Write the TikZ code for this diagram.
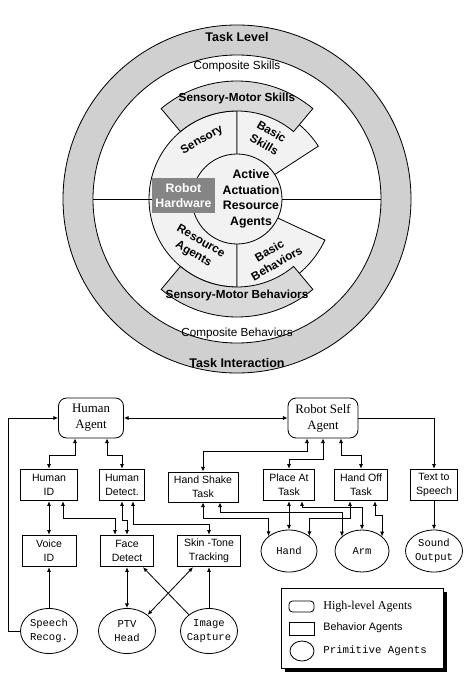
\documentclass[tikz,border=0pt]{standalone}
\usepackage{fontspec}
\setmainfont{Liberation Serif}
\setsansfont{Liberation Sans}
\setmonofont{Liberation Mono}
\usetikzlibrary{arrows.meta,calc,shapes.geometric,shadows}

\tikzset{agent/.style = {shape=rectangle, draw, rounded corners=7pt, align=center, minimum height=1.2cm, font=\fontsize{11}{13.5}\selectfont}}
\tikzset{behav/.style = {shape=rectangle, draw, align=center, inner sep=1pt, minimum height=0.95cm, font=\sffamily\fontsize{9}{12}\selectfont}}
\tikzset{prim/.style = {ellipse, draw, align=center, inner xsep=-2pt, inner ysep=0pt, minimum width=1.71cm, minimum height=1.35cm, font=\ttfamily\fontsize{9}{12}\selectfont}}
\tikzset{ringtext/.style = {font=\sffamily\bfseries\fontsize{10.7}{12}\selectfont}}
\tikzset{comptext/.style = {font=\sffamily\fontsize{10}{12}\selectfont}}
\tikzset{skilltext/.style = {align=center, inner sep=1pt, font=\sffamily\bfseries\fontsize{10}{12.5}\selectfont}}
\tikzset{hwbox/.style = {shape=rectangle, fill=black!48, text=white, align=center, minimum width=1.89cm, minimum height=1.05cm, inner sep=1pt, font=\sffamily\bfseries\fontsize{10.5}{13}\selectfont}}
\tikzset{legendbox/.style = {shape=rectangle, draw, fill=white, minimum width=4.86cm, minimum height=2.4cm, drop shadow={shadow xshift=0.12cm, shadow yshift=-0.12cm, fill=black, opacity=1}}}

\begin{document}
\begin{tikzpicture}[x=0.03cm, y=0.03cm, line width=0.7pt,
			>={Latex[length=4pt,width=3.5pt]}
		]
		\useasboundingbox (0,0) rectangle (474,-683);
		% Rings
		\coordinate (c) at (237,-199);
		\draw[fill=gray!37] (c) circle[radius=174];
		\draw[fill=white] (c) circle[radius=144];
		% Wedges
		\draw[fill=gray!10] (c) -- ($(c)+(90:88)$) arc[start angle=90, end angle=270, radius=88] -- cycle;
		\draw[fill=gray!10] (c) -- ($(c)+(33:97)$) arc[start angle=33, end angle=90, radius=97] -- cycle;
		\draw[fill=gray!10] (c) -- ($(c)+(-90:97)$) arc[start angle=-90, end angle=-25, radius=97] -- cycle;
		\foreach \a/\b in {50/130, -50/-130}
			\draw[fill=gray!30] ($(c)+(\a:88)$) -- ($(c)+(\a:118)$) arc[start angle=\a, end angle=\b, radius=118]
				-- ($(c)+(\b:88)$) arc[start angle=\b, end angle=\a, radius=88] -- cycle;
		\draw[fill=gray!10] (c) circle[radius=45];
		% Core nodes
		\node[hwbox]     (hw) at (183.5,-195.5) {Robot\\Hardware};
		\node[skilltext, font=\sffamily\bfseries\fontsize{10.5}{13.2}\selectfont] (core) at (251,-199) {Active\\Actuation\\Resource\\Agents};
		\draw ($(c)+(-144,0)$) -- (hw.west |- c);
		\draw ($(c)+(45,0)$) -- ($(c)+(144,0)$);
		% Labels
		\node[skilltext, rotate=30]  (sens) at (202,-140) {Sensory};
		\node[skilltext, rotate=-30] (bskill) at (268,-138) {Basic\\Skills};
		\node[skilltext, rotate=-30] (resag) at (197,-248) {Resource\\Agents};
		\node[skilltext, rotate=30]  (bbeh) at (273,-257) {Basic\\Behaviors};
		\node[skilltext] (smskill) at (237,-98) {Sensory-Motor Skills};
		\node[skilltext] (smbeh) at (237,-295) {Sensory-Motor Behaviors};
		\node[ringtext]  (tlevel) at (237,-37) {Task Level};
		\node[comptext]  (cskill) at (237,-66) {Composite Skills};
		\node[comptext]  (cbeh) at (237,-333) {Composite Behaviors};
		\node[ringtext]  (tinter) at (237,-363) {Task Interaction};
		% Nodes
		\node[agent, minimum width=1.95cm] (hagent) at ( 91,-418) {Human\\Agent};
		\node[agent, minimum width=2.1cm]  (ragent) at (323,-418) {Robot Self\\Agent};
		\node[behav, minimum width=1.71cm] (hid)    at ( 49,-485) {Human\\ID};
		\node[behav, minimum width=1.35cm] (hdet)   at (122,-485) {Human\\Detect.};
		\node[behav, minimum width=2.1cm, minimum height=0.9cm] (hshake) at (203,-487) {Hand Shake\\Task};
		\node[behav, minimum width=1.53cm] (place)  at (289,-485) {Place At\\Task};
		\node[behav, minimum width=1.59cm] (hoff)   at (361,-485) {Hand Off\\Task};
		\node[behav, minimum width=1.41cm] (tts)    at (434,-485) {Text to\\Speech};
		\node[behav, minimum width=1.62cm] (vid)    at ( 49,-551) {Voice\\ID};
		\node[behav, minimum width=1.59cm] (face)   at (127,-551) {Face\\Detect};
		\node[behav, minimum width=1.89cm] (skin)   at (209,-551) {Skin -Tone\\Tracking};
		\node[prim]  (speech) at ( 49,-631) {Speech\\Recog.};
		\node[prim]  (ptv)    at (127,-631) {PTV\\Head};
		\node[prim]  (image)  at (209,-631) {Image\\Capture};
		\node[prim, minimum width=1.68cm, minimum height=1.26cm] (hand)  at (289,-551) {Hand};
		\node[prim, minimum width=1.62cm, minimum height=1.26cm] (arm)   at (362,-551) {Arm};
		\node[prim, minimum width=1.71cm, minimum height=1.26cm] (sound) at (434,-551) {Sound\\Output};
		% Arrows
		\draw[<->] (ragent.west) -- (hagent.east);
		\draw[->] (speech.west) -- ++(-12,0) |- (hagent.west);
		\draw[->] (ragent.east) -| (tts.north);
		\foreach \from/\to in {hid.south/vid.north, face.south/ptv.north, place.south/hand.north}
			\draw[<->] (\from) -- (\to);
		\foreach \from/\to in {tts.south/sound.north, speech.north/vid.south, image.north/skin.south}
			\draw[->] (\from) -- (\to);
		\foreach \from/\dx/\dy/\to/\tx in {hagent.south/-16/-17/hid.north/0, hagent.south/16/-17/hdet.north/0,
				hid.south/14/-17/face.north/-12, hdet.south/0/-19/face.north/0, hdet.south/11/-23/skin.north/0,
				ragent.south/-16/-13/hshake.north/0, ragent.south/0/-21/place.north/0, ragent.south/18/-17/hoff.north/0,
				hshake.south/0/-16/hand.144/0, hshake.south/17/-10/arm.144/0, place.south/13/-6/arm.north/0,
				hoff.south/-11/-17/hand.36/0, hoff.south/14/-14/arm.36/0}
			\draw[<->] ($(\from)+(\dx,0)$) -- ++(0,\dy) -| ($(\to)+(\tx,0)$);
		\draw[<->] ($(skin.south)+(-16,0)$) -- (ptv.38);
		\draw[->] (image.141) -- ($(face.south)+(16,0)$);
		% Legend
		\node[legendbox] (legend) at (362,-628) {};
		\node[agent, minimum width=0.75cm, minimum height=0.33cm, rounded corners=3pt] (lhigh) at (301.5,-606.5) {};
		\node[behav, minimum width=0.75cm, minimum height=0.39cm] (lbeh) at (301.5,-628.5) {};
		\node[prim, minimum width=0.72cm, minimum height=0.6cm] (lprim) at (302,-651) {};
		\node[anchor=west, font=\fontsize{10.3}{12}\selectfont] (thigh) at (319,-607) {High-level Agents};
		\node[anchor=west, font=\sffamily\fontsize{9.2}{11}\selectfont] (tbeh) at (319,-628) {Behavior Agents};
		\node[anchor=west, font=\ttfamily\fontsize{9.2}{11}\selectfont] (tprim) at (319,-651) {Primitive Agents};
\end{tikzpicture}
\end{document}
